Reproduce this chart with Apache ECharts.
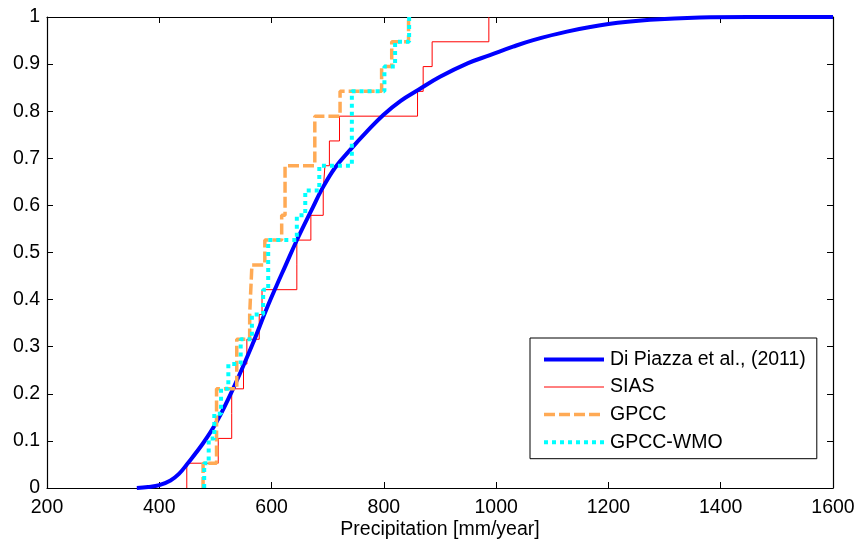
<!DOCTYPE html>
<html>
<head>
<meta charset="utf-8">
<script src="https://cdn.jsdelivr.net/npm/echarts@6/dist/echarts.min.js"></script>
<style>
  html, body { margin: 0; padding: 0; background: #fff; }
  #chart { width: 855px; height: 541px; }
</style>
</head>
<body>
<div id="chart"></div>
<script>
// ---- Data ----
const xTicks = [200, 400, 600, 800, 1000, 1200, 1400, 1600];
const yTicks = [0, 0.1, 0.2, 0.3, 0.4, 0.5, 0.6, 0.7, 0.8, 0.9, 1];

// Di Piazza et al. (2011) fitted CDF
const diPiazzaX = [360, 380, 400, 420, 435, 449, 478, 502, 532, 566, 591, 609, 624, 645, 674, 689, 713, 740, 770, 799, 830, 861, 900, 950, 989, 1030, 1066, 1126, 1200, 1274, 1363, 1450, 1600];
const diPiazzaY = [0, 0.002, 0.006, 0.016, 0.03, 0.05, 0.095, 0.14, 0.212, 0.305, 0.38, 0.43, 0.47, 0.526, 0.597, 0.633, 0.68, 0.718, 0.757, 0.792, 0.822, 0.845, 0.873, 0.902, 0.919, 0.937, 0.951, 0.969, 0.985, 0.994, 0.999, 1.0, 1.0];

// Empirical samples (sorted annual precipitation, mm/year), 19 values each
const siasValues = [449, 505, 529, 529, 550, 556, 578, 583, 645, 645, 670, 692, 695, 703, 721, 860, 870, 886, 987];
const gpccValues = [478, 502, 502, 502, 538, 538, 561, 563, 565, 588, 618, 624, 624, 677, 677, 722, 796, 814, 844];
const wmoValues  = [480, 488, 498, 510, 523, 545, 565, 585, 594, 594, 645, 660, 685, 743, 743, 743, 801, 820, 845];

// ---- Build series data ----
function ecdf(values) {
  const n = values.length;
  const pts = [[values[0], 0]];
  values.forEach((v, i) => pts.push([v, (i + 1) / n]));
  return pts;
}
const diPiazzaData = diPiazzaX.map((x, i) => [x, diPiazzaY[i]]);

const FONT = '"Liberation Sans", Arial, Helvetica, sans-serif';
const FS = 19.5;

const BLUE = '#0000ff', RED = '#ff0000', ORANGE = '#ffaa55', CYAN = '#00ffff';
const styles = {
  blue: { color: BLUE, width: 4 },
  red: { color: RED, width: 1 },
  orange: { color: ORANGE, width: 3.5, type: [11, 4], cap: 'butt' },
  cyan: { color: CYAN, width: 4, type: [4, 4], cap: 'butt' }
};

const chart = echarts.init(document.getElementById('chart'), null, { renderer: 'canvas' });

const tickCommon = { show: true, inside: true, length: 6, lineStyle: { color: '#000', width: 1 } };
const lineCommon = { show: true, onZero: false, lineStyle: { color: '#000', width: 1.2 } };

chart.setOption({
  backgroundColor: '#fff',
  animation: false,
  grid: { left: 47, right: 22, top: 17, bottom: 53, containLabel: false, outerBoundsMode: 'none' },
  legend: {
    data: [
      { name: 'Di Piazza et al., (2011)', lineStyle: styles.blue },
      { name: 'SIAS', lineStyle: styles.red },
      { name: 'GPCC', lineStyle: styles.orange },
      { name: 'GPCC-WMO', lineStyle: styles.cyan }
    ],
    orient: 'vertical',
    left: 530,
    top: 338,
    padding: [11.4, 11, 6.5, 12],
    itemWidth: 60,
    itemHeight: 14,
    itemGap: 7.6,
    itemStyle: { opacity: 0 },
    backgroundColor: '#fff',
    borderColor: '#000',
    borderWidth: 1,
    borderRadius: 0,
    textStyle: { fontFamily: FONT, fontSize: FS, color: '#000', padding: [0, 0, 0, 1] }
  },
  xAxis: [
    {
      type: 'value', min: 200, max: 1600, interval: 200,
      position: 'bottom',
      name: 'Precipitation [mm/year]', nameLocation: 'middle', nameGap: 32,
      nameMoveOverlap: false,
      nameTextStyle: { fontFamily: FONT, fontSize: FS, color: '#000' },
      axisLine: lineCommon, axisTick: tickCommon,
      axisLabel: { margin: 10, fontFamily: FONT, fontSize: FS, color: '#000',
        formatter: v => xTicks.includes(v) ? String(v) : '' },
      splitLine: { show: false }
    },
    {
      type: 'value', min: 200, max: 1600, interval: 200,
      position: 'top',
      axisLine: lineCommon, axisTick: tickCommon,
      axisLabel: { show: false }, splitLine: { show: false }
    }
  ],
  yAxis: [
    {
      type: 'value', min: 0, max: 1, interval: 0.1,
      position: 'left',
      axisLine: lineCommon, axisTick: tickCommon,
      axisLabel: { margin: 7, fontFamily: FONT, fontSize: FS, color: '#000',
        formatter: v => {
          const t = yTicks.find(y => Math.abs(y - v) < 1e-6);
          return t === undefined ? '' : String(+t.toFixed(1));
        } },
      splitLine: { show: false }
    },
    {
      type: 'value', min: 0, max: 1, interval: 0.1,
      position: 'right',
      axisLine: lineCommon, axisTick: tickCommon,
      axisLabel: { show: false }, splitLine: { show: false }
    }
  ],
  series: [
    {
      name: 'SIAS', type: 'line', step: 'end', showSymbol: false, symbol: 'none',
      data: ecdf(siasValues), z: 2,
      lineStyle: styles.red, itemStyle: { color: RED }
    },
    {
      name: 'Di Piazza et al., (2011)', type: 'line', smooth: 0.4, showSymbol: false, symbol: 'none',
      data: diPiazzaData, z: 3,
      lineStyle: styles.blue, itemStyle: { color: BLUE }
    },
    {
      name: 'GPCC', type: 'line', step: 'end', showSymbol: false, symbol: 'none',
      data: ecdf(gpccValues), z: 4,
      lineStyle: styles.orange, itemStyle: { color: ORANGE }
    },
    {
      name: 'GPCC-WMO', type: 'line', step: 'end', showSymbol: false, symbol: 'none',
      data: ecdf(wmoValues), z: 5,
      lineStyle: styles.cyan, itemStyle: { color: CYAN }
    }
  ]
});
</script>
</body>
</html>
